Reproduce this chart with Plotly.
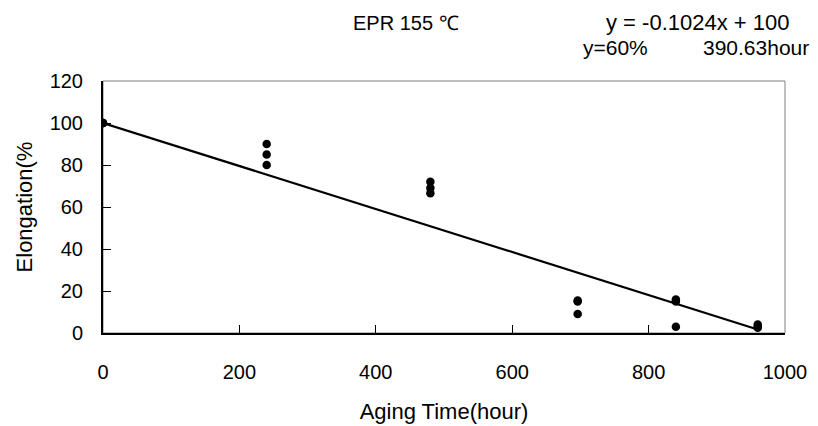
import plotly.graph_objects as go

# Data
aging_hours = [0, 0, 0, 240, 240, 240, 480, 480, 480, 696, 696, 696, 840, 840, 840, 960, 960, 960]
elongation = [100, 100, 100, 90, 85, 80, 72, 69, 66.5, 15.5, 15, 9, 16, 15, 3, 4, 3, 2.5]
slope = -0.1024
intercept = 100
fit_x = [0, 960]
fit_y = [slope * x + intercept for x in fit_x]
x_ticks = [0, 200, 400, 600, 800, 1000]
y_ticks = [0, 20, 40, 60, 80, 100, 120]

FONT = "Liberation Sans, Arial, sans-serif"
FS = 20
FT = 22

W, H = 818, 426
l, r, t, b = 103, 33, 81, 93
pw, ph = W - l - r, H - t - b

fig = go.Figure()
fig.add_trace(go.Scatter(x=fit_x, y=fit_y, mode="lines",
                         line=dict(color="black", width=2.2), showlegend=False))
fig.add_trace(go.Scatter(x=aging_hours, y=elongation, mode="markers",
                         marker=dict(color="black", size=8.5), showlegend=False))

fig.update_layout(
    width=W, height=H,
    margin=dict(l=l, r=r, t=t, b=b, autoexpand=False),
    plot_bgcolor="white", paper_bgcolor="white",
    font=dict(family=FONT, size=FS, color="black"),
    xaxis=dict(range=[0, 1000], tickvals=x_ticks, ticks="inside", ticklen=8,
               tickcolor="black", showgrid=False, zeroline=False,
               showline=True, linecolor="black", linewidth=2,
               tickfont=dict(size=FS), ticklabelstandoff=20,
               title=dict(text="Aging Time(hour)", font=dict(size=FT), standoff=22)),
    yaxis=dict(range=[0, 120], tickvals=y_ticks, ticks="inside", ticklen=8,
               tickcolor="black", showgrid=False, zeroline=False,
               showline=True, linecolor="black", linewidth=2,
               tickfont=dict(size=FS), ticklabelstandoff=14,
               title=dict(text="Elongation(%", font=dict(size=FT), standoff=11)),
    shapes=[dict(type="rect", xref="paper", yref="paper", x0=0, y0=0, x1=1, y1=1,
                 line=dict(color="#808080", width=1), layer="below")],
)

# text annotations placed by pixel position (left edge, vertical centre)
ann_texts = ["EPR 155 ℃", "y = -0.1024x + 100", "y=60%", "390.63hour"]
ann_px = [(353, 23), (606, 23), (583, 47), (703, 47)]
ann_fs = [20, 22, 21, 21]
for txt, (px, py), fs in zip(ann_texts, ann_px, ann_fs):
    fig.add_annotation(text=txt, xref="paper", yref="paper",
                       x=(px - l) / pw, y=(H - b - py) / ph,
                       xanchor="left", yanchor="middle", showarrow=False,
                       xshift=-2, font=dict(size=fs, family=FONT))

fig.write_html("out.html")
